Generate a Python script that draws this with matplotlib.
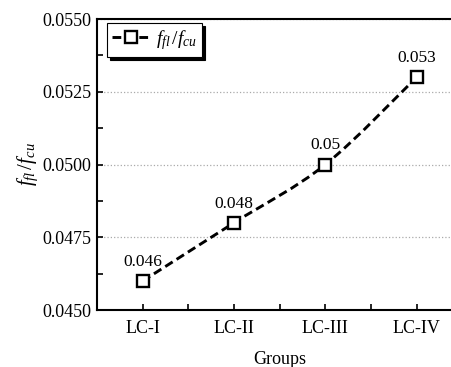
import numpy as np
import matplotlib.pyplot as plt
from matplotlib.path import Path
from matplotlib.patches import PathPatch
from matplotlib.lines import Line2D
from matplotlib.ticker import MultipleLocator

plt.rcParams['font.family'] = 'Liberation Serif'
plt.rcParams['mathtext.fontset'] = 'custom'
plt.rcParams['mathtext.rm'] = 'Liberation Serif'
plt.rcParams['mathtext.it'] = 'Liberation Serif:italic'

groups = ['LC-I', 'LC-II', 'LC-III', 'LC-IV']
ratio = [0.046, 0.048, 0.050, 0.053]
labels = ['0.046', '0.048', '0.05', '0.053']

fig = plt.figure(figsize=(4.51, 3.67), dpi=100)
ax = fig.add_axes([0.215, 0.155, 0.81, 0.793])

x = np.arange(len(groups))
y = np.array(ratio)

# smooth curve through the points (catmull-rom as bezier segments)
verts = [(x[0], y[0])]
codes = [Path.MOVETO]
for i in range(len(x) - 1):
    p0 = (x[max(i - 1, 0)], y[max(i - 1, 0)])
    p1 = (x[i], y[i])
    p2 = (x[i + 1], y[i + 1])
    p3 = (x[min(i + 2, len(x) - 1)], y[min(i + 2, len(x) - 1)])
    c1 = (p1[0] + (p2[0] - p0[0]) / 6, p1[1] + (p2[1] - p0[1]) / 6)
    c2 = (p2[0] - (p3[0] - p1[0]) / 6, p2[1] - (p3[1] - p1[1]) / 6)
    verts += [c1, c2, p2]
    codes += [Path.CURVE4] * 3
dash = (0, (3.0, 1.6))
curve = PathPatch(Path(verts, codes), fill=False, edgecolor='black', lw=2.1,
                  linestyle=dash, zorder=2)
ax.add_patch(curve)

ax.plot(x, y, ls='none', marker='s', ms=8.5, mfc='white', mec='black', mew=1.7, zorder=3)

for xi, yi, t in zip(x, y, labels):
    ax.annotate(t, (xi, yi), xytext=(0, 8), textcoords='offset points',
                ha='center', va='bottom', fontsize=12.5)

ax.set_xlim(-0.5, 3.5)
ax.set_ylim(0.045, 0.055)
ax.set_xticks(x)
ax.set_xticklabels(groups)
ax.xaxis.set_minor_locator(MultipleLocator(0.5))
ax.yaxis.set_major_locator(MultipleLocator(0.0025))
ax.yaxis.set_minor_locator(MultipleLocator(0.00125))
ax.yaxis.set_major_formatter(plt.FormatStrFormatter('%.4f'))
ax.tick_params(which='both', direction='in', length=4, width=1.2, labelsize=13)
ax.tick_params(axis='x', pad=7)
ax.tick_params(axis='y', pad=4)
ax.grid(axis='y', which='major', color='#aaaaaa', linestyle=':', linewidth=0.9)
for s in ax.spines.values():
    s.set_linewidth(1.5)

ax.set_xlabel('Groups', fontsize=13, labelpad=10)
ax.set_ylabel('$f_{fl}\\,/f_{cu}$', fontsize=15, labelpad=2)

h = Line2D([], [], color='black', lw=2.1, linestyle=dash, marker='s',
           ms=8.5, mfc='white', mec='black', mew=1.7)
leg = ax.legend([h], ['$f_{fl}\\,/f_{cu}$'], loc='upper left',
                bbox_to_anchor=(0.027, 0.986), borderaxespad=0, fontsize=14,
                frameon=True, fancybox=False,
                shadow={'color': 'black', 'alpha': 1},
                borderpad=0.25, handlelength=2.0, handletextpad=0.3)
leg.get_frame().set_edgecolor('black')
leg.get_frame().set_linewidth(0.8)

fig.savefig('out.png', dpi=100)
